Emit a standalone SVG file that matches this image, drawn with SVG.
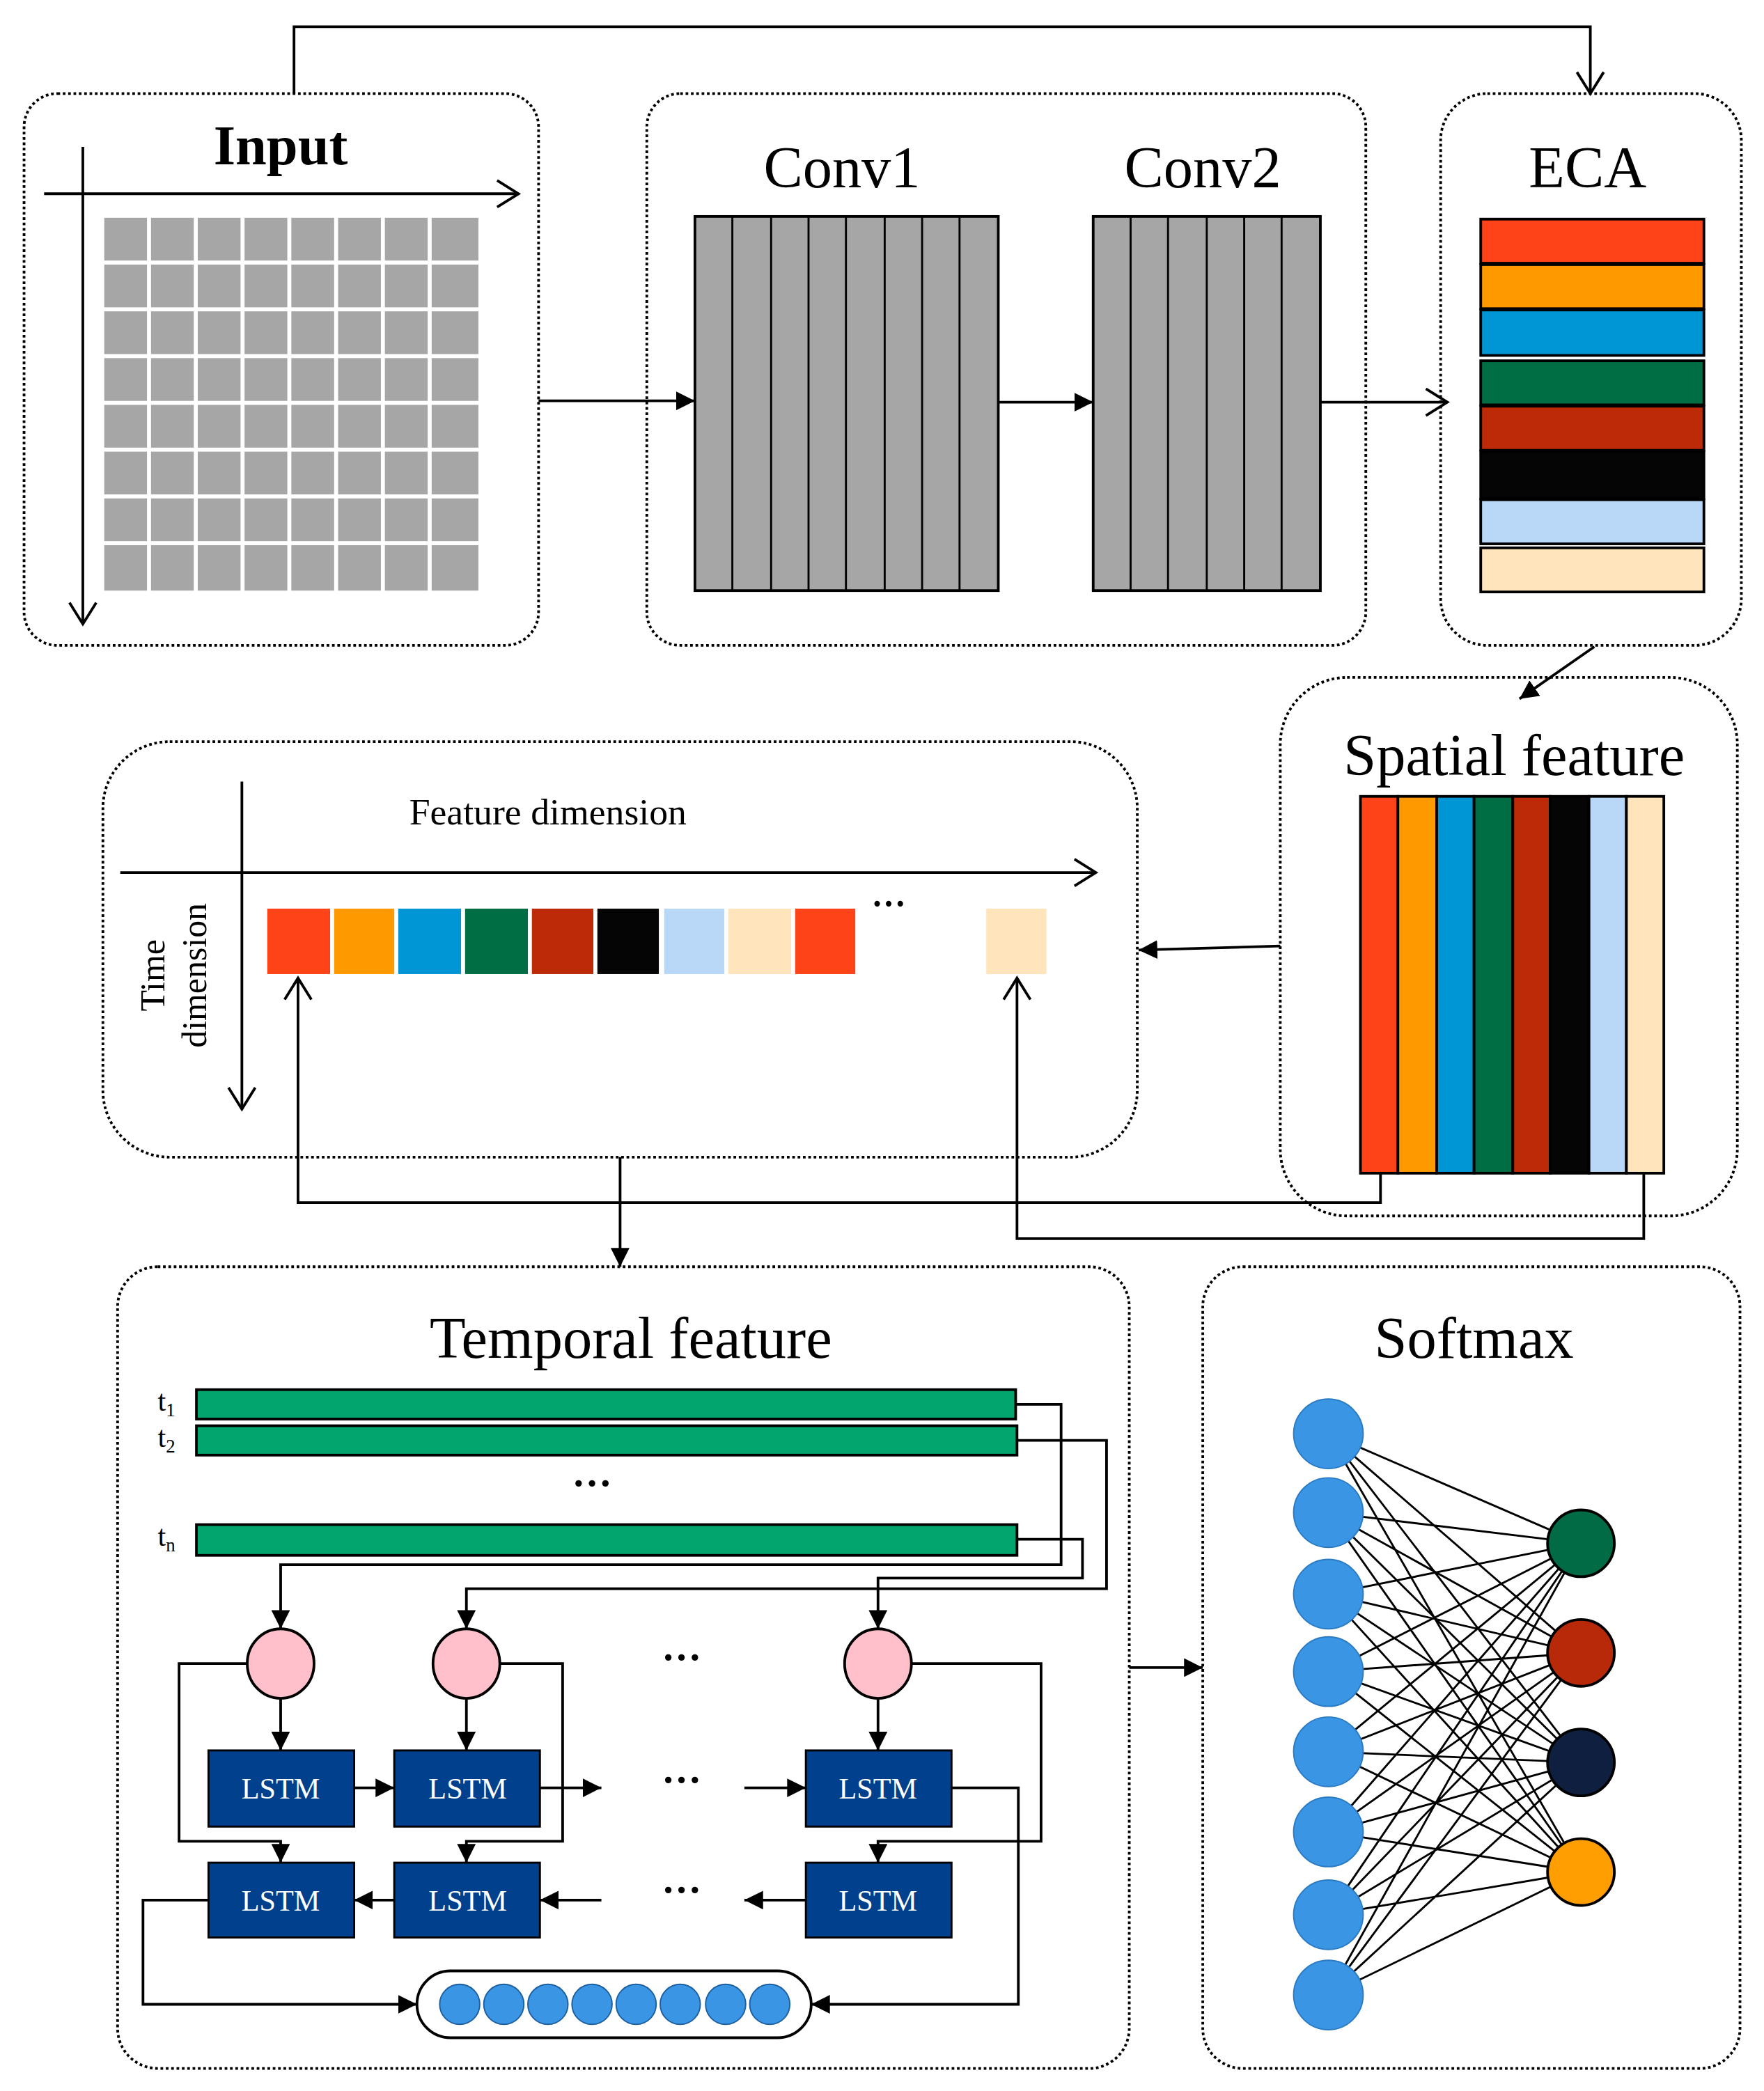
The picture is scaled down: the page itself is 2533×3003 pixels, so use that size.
<svg xmlns="http://www.w3.org/2000/svg" width="2533" height="3003" viewBox="0 0 2533 3003">
<defs>
<style>
.box{fill:none;stroke:#000;stroke-width:2;stroke-dasharray:2 2}
.ln{fill:none;stroke:#000;stroke-width:2}
.t{font-family:"Liberation Serif",serif;fill:#000;text-anchor:middle}
.lstm{fill:#00408C;stroke:#000;stroke-width:1.5}
.lt{font-family:"Liberation Serif",serif;fill:#fff;font-size:22px;text-anchor:middle}
.g{fill:#A6A6A6}
.st{stroke:#000;stroke-width:1.5}
</style>
<marker id="fa" markerUnits="userSpaceOnUse" markerWidth="16" markerHeight="14" refX="14" refY="7" orient="auto"><path d="M0,0 L14,7 L0,14 Z" fill="#000"/></marker>
<marker id="oa" markerUnits="userSpaceOnUse" markerWidth="20" markerHeight="24" refX="18" refY="12" orient="auto"><path d="M2,2 L18,12 L2,22" fill="none" stroke="#000" stroke-width="2"/></marker>
</defs>
<rect width="2533" height="3003" fill="#fff"/>
<g transform="scale(1.919)">
<g id="input">
<rect class="box" x="18" y="70" width="385" height="413" rx="25"/>
<text class="t" x="210" y="123" font-size="42" font-weight="bold">Input</text>
<line class="ln" x1="33" y1="145" x2="388" y2="145" marker-end="url(#oa)"/>
<line class="ln" x1="62" y1="110" x2="62" y2="467" marker-end="url(#oa)"/>
<g class="g">
<rect x="78" y="163" width="32" height="32"/><rect x="113" y="163" width="32" height="32"/><rect x="148" y="163" width="32" height="32"/><rect x="183" y="163" width="32" height="32"/><rect x="218" y="163" width="32" height="32"/><rect x="253" y="163" width="32" height="32"/><rect x="288" y="163" width="32" height="32"/><rect x="323" y="163" width="35" height="32"/>
<rect x="78" y="198" width="32" height="32"/><rect x="113" y="198" width="32" height="32"/><rect x="148" y="198" width="32" height="32"/><rect x="183" y="198" width="32" height="32"/><rect x="218" y="198" width="32" height="32"/><rect x="253" y="198" width="32" height="32"/><rect x="288" y="198" width="32" height="32"/><rect x="323" y="198" width="35" height="32"/>
<rect x="78" y="233" width="32" height="32"/><rect x="113" y="233" width="32" height="32"/><rect x="148" y="233" width="32" height="32"/><rect x="183" y="233" width="32" height="32"/><rect x="218" y="233" width="32" height="32"/><rect x="253" y="233" width="32" height="32"/><rect x="288" y="233" width="32" height="32"/><rect x="323" y="233" width="35" height="32"/>
<rect x="78" y="268" width="32" height="32"/><rect x="113" y="268" width="32" height="32"/><rect x="148" y="268" width="32" height="32"/><rect x="183" y="268" width="32" height="32"/><rect x="218" y="268" width="32" height="32"/><rect x="253" y="268" width="32" height="32"/><rect x="288" y="268" width="32" height="32"/><rect x="323" y="268" width="35" height="32"/>
<rect x="78" y="303" width="32" height="32"/><rect x="113" y="303" width="32" height="32"/><rect x="148" y="303" width="32" height="32"/><rect x="183" y="303" width="32" height="32"/><rect x="218" y="303" width="32" height="32"/><rect x="253" y="303" width="32" height="32"/><rect x="288" y="303" width="32" height="32"/><rect x="323" y="303" width="35" height="32"/>
<rect x="78" y="338" width="32" height="32"/><rect x="113" y="338" width="32" height="32"/><rect x="148" y="338" width="32" height="32"/><rect x="183" y="338" width="32" height="32"/><rect x="218" y="338" width="32" height="32"/><rect x="253" y="338" width="32" height="32"/><rect x="288" y="338" width="32" height="32"/><rect x="323" y="338" width="35" height="32"/>
<rect x="78" y="373" width="32" height="32"/><rect x="113" y="373" width="32" height="32"/><rect x="148" y="373" width="32" height="32"/><rect x="183" y="373" width="32" height="32"/><rect x="218" y="373" width="32" height="32"/><rect x="253" y="373" width="32" height="32"/><rect x="288" y="373" width="32" height="32"/><rect x="323" y="373" width="35" height="32"/>
<rect x="78" y="408" width="32" height="34"/><rect x="113" y="408" width="32" height="34"/><rect x="148" y="408" width="32" height="34"/><rect x="183" y="408" width="32" height="34"/><rect x="218" y="408" width="32" height="34"/><rect x="253" y="408" width="32" height="34"/><rect x="288" y="408" width="32" height="34"/><rect x="323" y="408" width="35" height="34"/>
</g>
</g>
<g id="conv">
<rect class="box" x="484" y="70" width="538" height="413" rx="25"/>
<text class="t" x="630" y="140" font-size="44">Conv1</text>
<text class="t" x="900" y="140" font-size="44">Conv2</text>
<rect x="520" y="162" width="227" height="280" fill="#A6A6A6" stroke="#000" stroke-width="2"/>
<path class="st" d="M548,162V442M577,162V442M605,162V442M633,162V442M662,162V442M690,162V442M718,162V442"/>
<rect x="818" y="162" width="170" height="280" fill="#A6A6A6" stroke="#000" stroke-width="2"/>
<path class="st" d="M846,162V442M874,162V442M903,162V442M931,162V442M959,162V442"/>
</g>
<g id="eca">
<rect class="box" x="1078" y="70" width="225" height="413" rx="35"/>
<text class="t" x="1188" y="140" font-size="44">ECA</text>
<g stroke="#000" stroke-width="2">
<rect x="1108" y="164" width="167" height="33" fill="#FF4319"/>
<rect x="1108" y="198" width="167" height="33" fill="#FF9900"/>
<rect x="1108" y="232" width="167" height="34" fill="#0096D6"/>
<rect x="1108" y="270" width="167" height="33" fill="#006E45"/>
<rect x="1108" y="304" width="167" height="33" fill="#BC2A08"/>
<rect x="1108" y="338" width="167" height="35" fill="#050505"/>
<rect x="1108" y="374" width="167" height="33" fill="#B9D8F8"/>
<rect x="1108" y="410" width="167" height="33" fill="#FFE4BC"/>
</g>
</g>
<g id="spatial">
<rect class="box" x="958" y="507" width="342" height="403" rx="50"/>
<text class="t" x="1133" y="580" font-size="44">Spatial feature</text>
<g stroke="#000" stroke-width="2">
<rect x="1018" y="596" width="28" height="282" fill="#FF4319"/>
<rect x="1046" y="596" width="29" height="282" fill="#FF9900"/>
<rect x="1075" y="596" width="28" height="282" fill="#0096D6"/>
<rect x="1103" y="596" width="29" height="282" fill="#006E45"/>
<rect x="1132" y="596" width="28" height="282" fill="#BC2A08"/>
<rect x="1160" y="596" width="29" height="282" fill="#050505"/>
<rect x="1189" y="596" width="28" height="282" fill="#B9D8F8"/>
<rect x="1217" y="596" width="28" height="282" fill="#FFE4BC"/>
</g>
</g>
<g id="feature">
<rect class="box" x="77" y="555" width="774" height="311" rx="50"/>
<text class="t" x="410" y="617" font-size="28">Feature dimension</text>
<text class="t" font-size="26" transform="translate(123,730) rotate(-90)">Time</text>
<text class="t" font-size="26" transform="translate(154,730) rotate(-90)">dimension</text>
<line class="ln" x1="90" y1="653" x2="820" y2="653" marker-end="url(#oa)"/>
<line class="ln" x1="181" y1="585" x2="181" y2="830" marker-end="url(#oa)"/>
<rect x="200" y="680" width="47" height="49" fill="#FF4319"/>
<rect x="250" y="680" width="45" height="49" fill="#FF9900"/>
<rect x="298" y="680" width="47" height="49" fill="#0096D6"/>
<rect x="348" y="680" width="47" height="49" fill="#006E45"/>
<rect x="398" y="680" width="46" height="49" fill="#BC2A08"/>
<rect x="447" y="680" width="46" height="49" fill="#050505"/>
<rect x="497" y="680" width="45" height="49" fill="#B9D8F8"/>
<rect x="545" y="680" width="47" height="49" fill="#FFE4BC"/>
<rect x="595" y="680" width="45" height="49" fill="#FF4319"/>
<text class="t" x="665" y="685" font-size="26" font-weight="bold">···</text>
<rect x="738" y="680" width="45" height="49" fill="#FFE4BC"/>
</g>
<g id="temporal">
<rect class="box" x="88" y="948" width="757" height="600" rx="30"/>
<text class="t" x="472" y="1016" font-size="44">Temporal feature</text>
<text font-family="Liberation Serif,serif" font-size="22" x="118" y="1056">t<tspan font-size="14" dy="4">1</tspan></text>
<text font-family="Liberation Serif,serif" font-size="22" x="118" y="1083">t<tspan font-size="14" dy="4">2</tspan></text>
<text font-family="Liberation Serif,serif" font-size="22" x="118" y="1157">t<tspan font-size="14" dy="4">n</tspan></text>
<g fill="#03A56E" stroke="#000" stroke-width="2">
<rect x="147" y="1040" width="613" height="22"/>
<rect x="147" y="1067" width="614" height="22"/>
<rect x="147" y="1141" width="614" height="23"/>
</g>
<text class="t" x="443" y="1120" font-size="30" font-weight="bold">···</text>
<g fill="#FFC0CB" stroke="#000" stroke-width="2">
<ellipse cx="210" cy="1245" rx="25" ry="26"/>
<ellipse cx="349" cy="1245" rx="25" ry="26"/>
<ellipse cx="657" cy="1245" rx="25" ry="26"/>
</g>
<text class="t" x="510" y="1250" font-size="30" font-weight="bold">···</text>
<text class="t" x="510" y="1342" font-size="30" font-weight="bold">···</text>
<text class="t" x="510" y="1424" font-size="30" font-weight="bold">···</text>
<rect class="lstm" x="156" y="1310" width="109" height="57"/><text class="lt" x="210" y="1346">LSTM</text>
<rect class="lstm" x="295" y="1310" width="109" height="57"/><text class="lt" x="350" y="1346">LSTM</text>
<rect class="lstm" x="603" y="1310" width="109" height="57"/><text class="lt" x="657" y="1346">LSTM</text>
<rect class="lstm" x="156" y="1394" width="109" height="56"/><text class="lt" x="210" y="1430">LSTM</text>
<rect class="lstm" x="295" y="1394" width="109" height="56"/><text class="lt" x="350" y="1430">LSTM</text>
<rect class="lstm" x="603" y="1394" width="109" height="56"/><text class="lt" x="657" y="1430">LSTM</text>
<rect x="312" y="1475" width="295" height="50" rx="25" fill="#fff" stroke="#000" stroke-width="2"/>
<g fill="#3A95E4" stroke="#1d5fa0" stroke-width="1">
<circle cx="344" cy="1500" r="15"/><circle cx="377" cy="1500" r="15"/><circle cx="410" cy="1500" r="15"/><circle cx="443" cy="1500" r="15"/><circle cx="476" cy="1500" r="15"/><circle cx="509" cy="1500" r="15"/><circle cx="543" cy="1500" r="15"/><circle cx="576" cy="1500" r="15"/>
</g>
</g>
<g id="softmax">
<rect class="box" x="900" y="948" width="402" height="600" rx="30"/>
<text class="t" x="1103" y="1016" font-size="44">Softmax</text>
<g stroke="#000" stroke-width="1.5">
<path d="M994,1073L1183,1155M994,1073L1183,1237M994,1073L1183,1319M994,1073L1183,1401M994,1132L1183,1155M994,1132L1183,1237M994,1132L1183,1319M994,1132L1183,1401M994,1193L1183,1155M994,1193L1183,1237M994,1193L1183,1319M994,1193L1183,1401M994,1251L1183,1155M994,1251L1183,1237M994,1251L1183,1319M994,1251L1183,1401M994,1311L1183,1155M994,1311L1183,1237M994,1311L1183,1319M994,1311L1183,1401M994,1371L1183,1155M994,1371L1183,1237M994,1371L1183,1319M994,1371L1183,1401M994,1433L1183,1155M994,1433L1183,1237M994,1433L1183,1319M994,1433L1183,1401M994,1493L1183,1155M994,1493L1183,1237M994,1493L1183,1319M994,1493L1183,1401"/>
</g>
<g fill="#3A95E4" stroke="#2a7bc4" stroke-width="1">
<circle cx="994" cy="1073" r="26"/><circle cx="994" cy="1132" r="26"/><circle cx="994" cy="1193" r="26"/><circle cx="994" cy="1251" r="26"/><circle cx="994" cy="1311" r="26"/><circle cx="994" cy="1371" r="26"/><circle cx="994" cy="1433" r="26"/><circle cx="994" cy="1493" r="26"/>
</g>
<g stroke="#000" stroke-width="2">
<circle cx="1183" cy="1155" r="25" fill="#006B45"/>
<circle cx="1183" cy="1237" r="25" fill="#B8290A"/>
<circle cx="1183" cy="1319" r="25" fill="#0E1F3F"/>
<circle cx="1183" cy="1401" r="25" fill="#FF9E00"/>
</g>
</g>
<g id="connectors">
<polyline class="ln" points="220,70 220,20 1190,20 1190,70" marker-end="url(#oa)"/>
<line class="ln" x1="403" y1="300" x2="520" y2="300" marker-end="url(#fa)"/>
<line class="ln" x1="747" y1="301" x2="818" y2="301" marker-end="url(#fa)"/>
<line class="ln" x1="988" y1="301" x2="1083" y2="301" marker-end="url(#oa)"/>
<line class="ln" x1="1193" y1="484" x2="1137" y2="523" marker-end="url(#fa)"/>
<line class="ln" x1="958" y1="708" x2="852" y2="711" marker-end="url(#fa)"/>
<polyline class="ln" points="1033,878 1033,900 223,900 223,732" marker-end="url(#oa)"/>
<polyline class="ln" points="1230,878 1230,927 761,927 761,732" marker-end="url(#oa)"/>
<line class="ln" x1="464" y1="866" x2="464" y2="948" marker-end="url(#fa)"/>
<line class="ln" x1="845" y1="1248" x2="900" y2="1248" marker-end="url(#fa)"/>
<polyline class="ln" points="760,1051 794,1051 794,1171 210,1171 210,1219" marker-end="url(#fa)"/>
<polyline class="ln" points="761,1078 828,1078 828,1189 349,1189 349,1219" marker-end="url(#fa)"/>
<polyline class="ln" points="761,1152 810,1152 810,1181 657,1181 657,1219" marker-end="url(#fa)"/>
<line class="ln" x1="210" y1="1271" x2="210" y2="1310" marker-end="url(#fa)"/>
<line class="ln" x1="349" y1="1271" x2="349" y2="1310" marker-end="url(#fa)"/>
<line class="ln" x1="657" y1="1271" x2="657" y2="1310" marker-end="url(#fa)"/>
<line class="ln" x1="265" y1="1338" x2="295" y2="1338" marker-end="url(#fa)"/>
<line class="ln" x1="404" y1="1338" x2="450" y2="1338" marker-end="url(#fa)"/>
<line class="ln" x1="557" y1="1338" x2="603" y2="1338" marker-end="url(#fa)"/>
<line class="ln" x1="295" y1="1422" x2="265" y2="1422" marker-end="url(#fa)"/>
<line class="ln" x1="450" y1="1422" x2="404" y2="1422" marker-end="url(#fa)"/>
<line class="ln" x1="603" y1="1422" x2="557" y2="1422" marker-end="url(#fa)"/>
<polyline class="ln" points="185,1245 134,1245 134,1378 210,1378 210,1394" marker-end="url(#fa)"/>
<polyline class="ln" points="374,1245 421,1245 421,1378 349,1378 349,1394" marker-end="url(#fa)"/>
<polyline class="ln" points="682,1245 779,1245 779,1378 657,1378 657,1394" marker-end="url(#fa)"/>
<polyline class="ln" points="712,1338 762,1338 762,1500 607,1500" marker-end="url(#fa)"/>
<polyline class="ln" points="156,1422 107,1422 107,1500 312,1500" marker-end="url(#fa)"/>
</g>
</g>
</svg>
